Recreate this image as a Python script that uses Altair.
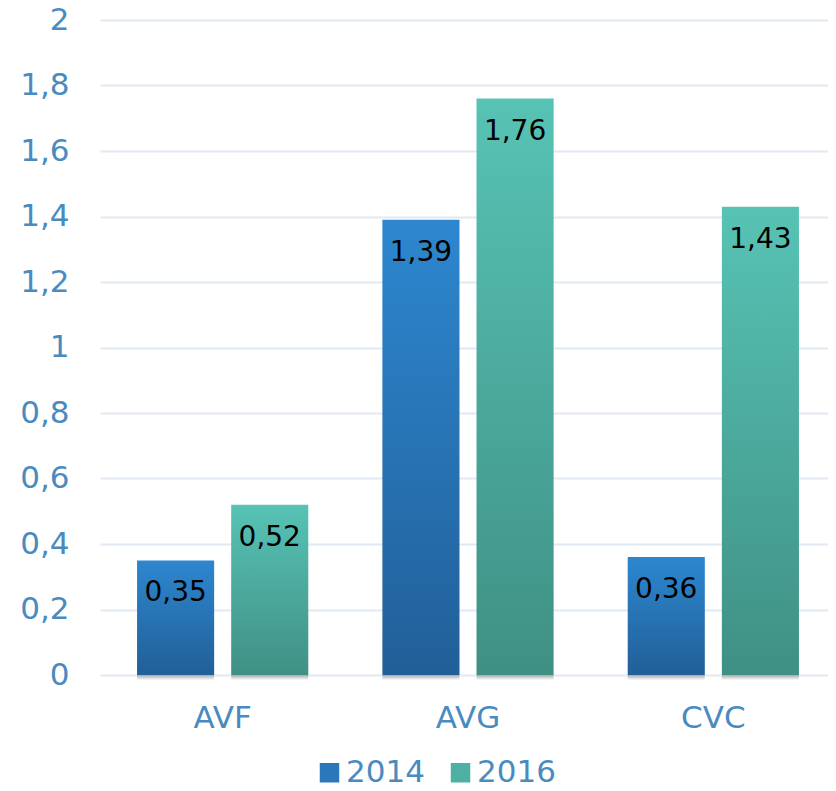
import altair as alt
import pandas as pd

categories = ["AVF", "AVG", "CVC"]
years = ["2014", "2016"]
values_2014 = [0.35, 1.39, 0.36]
values_2016 = [0.52, 1.76, 1.43]
y_ticks = [0, 0.2, 0.4, 0.6, 0.8, 1.0, 1.2, 1.4, 1.6, 1.8, 2.0]

rows = []
for yr, vals in zip(years, [values_2014, values_2016]):
    for c, v in zip(categories, vals):
        rows.append({"cat": c, "year": yr, "value": v,
                     "label": f"{v:.2f}".replace(".", ",")})
df = pd.DataFrame(rows)

AXIS_COLOR = "#4a8bbf"
GRID_COLOR = "#e1e9f3"

x = alt.X("cat:N", scale=alt.Scale(domain=categories, paddingInner=0.302, paddingOuter=0.151,
                                   range=[0, 736]),
          axis=alt.Axis(title=None, labelAngle=0, ticks=False, domain=False,
                        labelFontSize=31, labelColor=AXIS_COLOR, labelPadding=28))
xo = alt.XOffset("year:N", scale=alt.Scale(domain=years, paddingInner=0.181, paddingOuter=0))
y = alt.Y("value:Q", scale=alt.Scale(domain=[0, 2], nice=False),
          axis=alt.Axis(title=None, values=y_ticks, ticks=False, domain=False,
                        labelExpr="replace(format(datum.value, '.1~f'), '.', ',')",
                        labelFontSize=31, labelColor=AXIS_COLOR, labelPadding=31,
                        gridColor=GRID_COLOR, gridWidth=2))

blue_grad = alt.Gradient(gradient="linear", x1=0, x2=0, y1=0, y2=1,
                         stops=[alt.GradientStop(color="#2d87cf", offset=0),
                                alt.GradientStop(color="#215f98", offset=1)])
teal_grad = alt.Gradient(gradient="linear", x1=0, x2=0, y1=0, y2=1,
                         stops=[alt.GradientStop(color="#57c3b5", offset=0),
                                alt.GradientStop(color="#3f9084", offset=1)])
shadow_grad = alt.Gradient(gradient="linear", x1=0, x2=0, y1=0, y2=1,
                           stops=[alt.GradientStop(color="#a8a8a8", offset=0),
                                  alt.GradientStop(color="#ffffff", offset=1)])

base = alt.Chart(df)

legend_layer = base.mark_bar(opacity=0).encode(
    x=x, xOffset=xo, y=y,
    color=alt.Color("year:N", scale=alt.Scale(domain=years, range=["#2a78bb", "#4eb0a3"]),
                    legend=alt.Legend(orient="none", legendX=214, legendY=737,
                                      direction="horizontal", title=None,
                                      symbolType="square", symbolSize=380,
                                      symbolOpacity=1, symbolStrokeWidth=0,
                                      labelFontSize=31, labelColor=AXIS_COLOR,
                                      columnPadding=20, labelOffset=1)),
)

shadow = base.mark_bar(fill=shadow_grad).encode(
    x=x, xOffset=xo, y=alt.datum(0), y2=alt.datum(-0.016))

bars_2014 = base.transform_filter(alt.datum.year == "2014").mark_bar(fill=blue_grad).encode(
    x=x, xOffset=xo, y=y)
bars_2016 = base.transform_filter(alt.datum.year == "2016").mark_bar(fill=teal_grad).encode(
    x=x, xOffset=xo, y=y)

labels = base.mark_text(baseline="top", dy=19, fontSize=28, color="#000000").encode(
    x=x, xOffset=xo, y=y, text="label:N")

chart = alt.layer(legend_layer, shadow, bars_2014, bars_2016, labels).properties(
    width=728, height=655,
    autosize=alt.AutoSizeParams(type="none"),
    padding={"left": 92, "top": 12, "right": 0, "bottom": 108},
).configure(font="DejaVu Sans").configure_view(stroke=None)

chart.save("out.html", embed_options={"renderer": "svg", "actions": False})
